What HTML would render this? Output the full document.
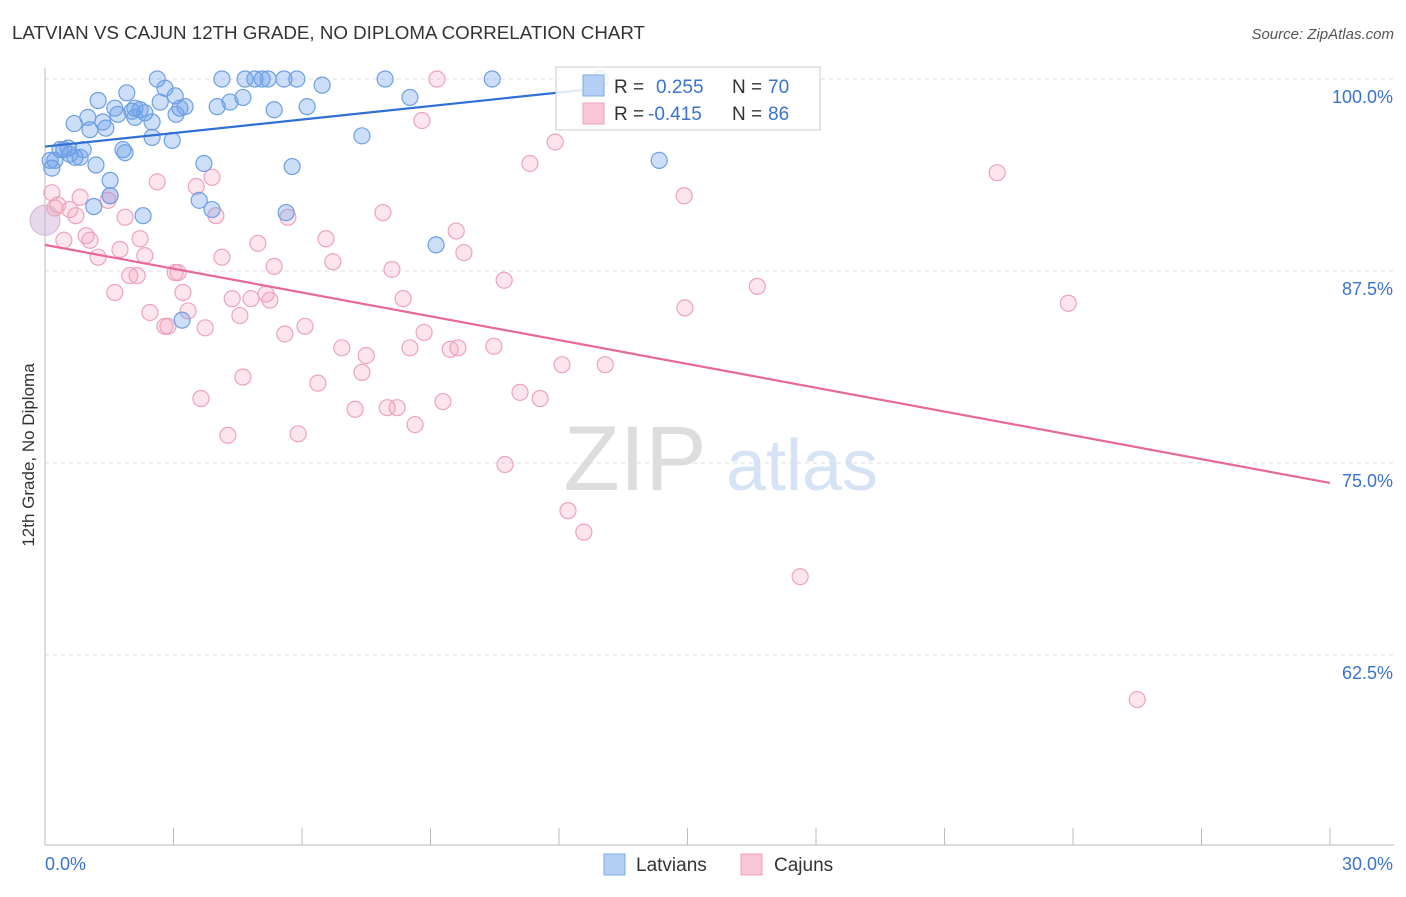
<!DOCTYPE html>
<html><head><meta charset="utf-8"><style>
body{margin:0;background:#fff;font-family:"Liberation Sans",sans-serif;}
svg text{font-family:"Liberation Sans",sans-serif;}
</style></head><body>
<svg id="chart" width="1406" height="892">
<text x="12" y="39" font-size="18" fill="#333" textLength="633" lengthAdjust="spacingAndGlyphs">LATVIAN VS CAJUN 12TH GRADE, NO DIPLOMA CORRELATION CHART</text>
<text x="1394" y="39" font-size="15" fill="#555" font-style="italic" text-anchor="end">Source: ZipAtlas.com</text>
<text transform="translate(34,455) rotate(-90)" font-size="17" fill="#333" text-anchor="middle">12th Grade, No Diploma</text>
<g><text x="635" y="490" font-size="92" fill="#ddd" font-family="Liberation Serif" text-anchor="middle">ZIP</text><text x="802" y="490" font-size="72" fill="#d5e3f5" text-anchor="middle">atlas</text></g>
<g id="grid"></g><g id="axes"></g><g id="pts"></g><g id="lines"></g>
<g>
<rect x="556" y="67" width="264" height="63" fill="#fff" fill-opacity="0.85" stroke="#ccc"/>
<rect x="583" y="75" width="21" height="21" fill="#b3cff3" stroke="#7ea8e6"/>
<rect x="583" y="103" width="21" height="21" fill="#f9c6d6" stroke="#eda3bd"/>
<text x="614" y="93" font-size="19" fill="#333">R =</text><text x="656" y="93" font-size="19" fill="#3a72d0">0.255</text>
<text x="732" y="93" font-size="19" fill="#333">N =</text><text x="768" y="93" font-size="19" fill="#3a72d0">70</text>
<text x="614" y="120" font-size="19" fill="#333">R =</text><text x="648" y="120" font-size="19" fill="#3a72d0">-0.415</text>
<text x="732" y="120" font-size="19" fill="#333">N =</text><text x="768" y="120" font-size="19" fill="#3a72d0">86</text>
</g>
<g>
<rect x="604" y="854" width="21" height="21" fill="#b3cff3" stroke="#7ea8e6"/>
<text x="636" y="871" font-size="19" fill="#333">Latvians</text>
<rect x="741" y="854" width="21" height="21" fill="#f9c6d6" stroke="#eda3bd"/>
<text x="774" y="871" font-size="19" fill="#333">Cajuns</text>
</g>
</svg>
<script>
const xTicks=[0,3,6,9,12,15,18,21,24,27,30];
const yTicks=[100,87.5,75,62.5];
const yTickLabels=["100.0%","87.5%","75.0%","62.5%"];
const latX=[0.16,0.23,0.35,0.44,0.54,0.58,0.70,0.82,0.89,0.68,1.00,1.05,1.19,1.24,1.35,1.42,1.52,1.52,1.14,1.63,1.70,1.82,1.87,1.91,2.03,2.10,2.10,2.22,2.33,2.29,2.50,2.50,2.62,2.69,2.80,2.97,3.04,3.06,3.15,3.27,3.20,3.60,3.71,3.90,4.02,4.13,4.32,4.62,4.67,4.90,5.07,5.21,5.35,5.58,5.63,5.77,5.88,6.12,6.47,7.40,7.94,8.52,9.13,10.44,12.96,14.34,0.12];
const latY=[94.2,94.7,95.4,95.4,95.5,95.1,94.9,94.9,95.4,97.1,97.5,96.7,94.4,98.6,97.2,96.8,93.4,92.4,91.7,98.1,97.7,95.4,95.2,99.1,97.9,98.1,97.5,98.0,97.8,91.1,97.2,96.2,100,98.5,99.4,96.0,98.9,97.7,98.1,98.2,84.3,92.1,94.5,91.5,98.2,100,98.5,98.8,100,100,100,100,98.0,100,91.3,94.3,100,98.2,99.6,96.3,100,98.8,89.2,100,100,94.7,94.7];
const cajX=[0.16,0.23,0.30,0.44,0.58,0.72,0.82,0.96,1.05,1.24,1.47,1.52,1.63,1.75,1.87,1.98,2.15,2.22,2.33,2.45,2.62,2.80,2.87,3.04,3.11,3.22,3.34,3.53,3.64,3.74,3.90,3.99,4.13,4.27,4.37,4.55,4.62,4.81,4.97,5.16,5.25,5.35,5.60,5.67,5.91,6.07,6.37,6.56,6.72,6.93,7.24,7.40,7.50,7.89,8.10,7.99,8.22,8.36,8.52,8.64,8.80,8.85,9.15,9.29,9.46,9.64,9.60,9.78,10.48,10.72,10.74,11.09,11.32,11.56,11.91,12.07,12.21,12.58,13.08,14.92,14.94,16.63,17.63,22.23,23.89,25.50];
const cajY=[92.6,91.6,91.8,89.5,91.5,91.1,92.3,89.8,89.5,88.4,92.1,92.4,86.1,88.9,91.0,87.2,87.2,89.6,88.5,84.8,93.3,83.9,83.9,87.4,87.4,86.1,84.9,93.0,79.2,83.8,93.6,91.1,88.4,76.8,85.7,84.6,80.6,85.7,89.3,86.0,85.6,87.8,83.4,91.0,76.9,83.9,80.2,89.6,88.1,82.5,78.5,80.9,82.0,91.3,87.6,78.6,78.6,85.7,82.5,77.5,97.3,83.5,100,79.0,82.4,82.5,90.1,88.7,82.6,86.9,74.9,79.6,94.5,79.2,95.9,81.4,71.9,70.5,81.4,92.4,85.1,86.5,67.6,93.9,85.4,59.6];
const latTrend=[0,95.6,12.96,99.4];
const cajTrend=[0,89.2,30,73.7];
const NS="http://www.w3.org/2000/svg";
const sx=v=>45+v/30*1285;
const sy=v=>79+(100-v)/12.5*192;
function mk(p,t,a){const e=document.createElementNS(NS,t);for(const k in a)e.setAttribute(k,a[k]);document.getElementById(p).appendChild(e);return e;}
yTicks.forEach((t,i)=>{
 const l=mk('grid','line',{x1:45,x2:1394,y1:sy(t),y2:sy(t),stroke:'#ddd','stroke-dasharray':'4,4'});
 
 
 const tx=mk('grid','text',{x:1393,y:sy(t)+24,'font-size':18,fill:'#3a72d0','text-anchor':'end'});tx.textContent=yTickLabels[i];
 
 
});
const ax=mk('axes','line',{x1:45,x2:1394,y1:845,y2:845,stroke:'#bbb'});


const ay=mk('axes','line',{x1:45,x2:45,y1:68,y2:845,stroke:'#bbb'});


xTicks.forEach(t=>{const l=mk('axes','line',{x1:sx(t),x2:sx(t),y1:828,y2:845,stroke:'#bbb'});
 
 });
const x0=mk('axes','text',{x:45,y:870,'font-size':18,fill:'#3a72d0'});x0.textContent='0.0%';


const x1=mk('axes','text',{x:1393,y:870,'font-size':18,fill:'#3a72d0','text-anchor':'end'});x1.textContent='30.0%';


const bigC=mk('pts','circle',{cx:sx(0),cy:sy(90.8),r:15,fill:'rgba(200,170,210,0.45)',stroke:'#d8b0cc'});


cajX.forEach((x,i)=>{const c=mk('pts','circle',{cx:sx(x),cy:sy(cajY[i]),r:8,fill:'rgba(244,160,190,0.28)',stroke:'#eda3bd','stroke-width':1.2});
 
 });
latX.forEach((x,i)=>{const c=mk('pts','circle',{cx:sx(x),cy:sy(latY[i]),r:8,fill:'rgba(110,160,235,0.35)',stroke:'#6e9fe2','stroke-width':1.2});
 
 });
const lt=mk('lines','line',{x1:sx(latTrend[0]),y1:sy(latTrend[1]),x2:sx(latTrend[2]),y2:sy(latTrend[3]),stroke:'#2f6fd6','stroke-width':2.2});


const ct=mk('lines','line',{x1:sx(cajTrend[0]),y1:sy(cajTrend[1]),x2:sx(cajTrend[2]),y2:sy(cajTrend[3]),stroke:'#e8689a','stroke-width':2.2});


</script>
</body></html>
